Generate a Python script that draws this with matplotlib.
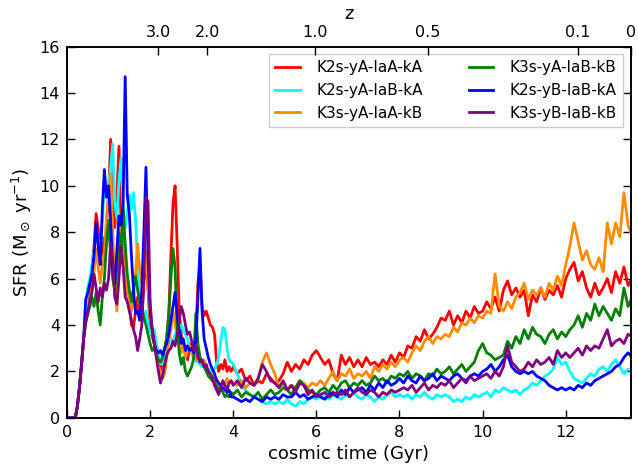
import numpy as np
import matplotlib
matplotlib.use('Agg')
import matplotlib.pyplot as plt

# time sampling: 0.05 Gyr up to 4 Gyr, 0.1 Gyr afterwards
t_early = np.round(np.arange(0.0, 4.0001, 0.05), 2)
t_late = np.round(np.arange(4.1, 13.6001, 0.1), 1)
time = np.concatenate([t_early, t_late])

# redshift ticks for the top axis and the cosmic time they sit at (Gyr)
z_labels = ['3.0', '2.0', '1.0', '0.5', '0.1', '0']
z_ages = [2.19, 3.38, 5.96, 8.68, 12.30, 13.57]

sfr_red = [
    0, 0, 0, 0, 0, 0.5, 1.3, 2.3, 3.4, 4.2,
    4.6, 5.6, 6.4, 7.4, 8.8, 8.2, 7.0, 7.8, 6.6, 8.4,
    9.5, 12.0, 10.8, 8.2, 9.6, 11.7, 8.5, 7.2, 6.0, 5.4,
    5.0, 4.0, 3.9, 4.6, 5.2, 4.4, 4.3, 5.8, 7.0, 5.5,
    4.0, 3.5, 3.2, 2.8, 2.3, 2.0, 2.4, 2.9, 3.4, 4.5,
    7.0, 9.2, 10.0, 7.5, 4.6, 3.6, 3.0, 2.8, 2.5, 3.0,
    3.2, 3.0, 3.6, 5.8, 6.6, 4.8, 4.4, 4.6, 4.3, 4.0,
    3.9, 3.6, 2.4, 2.0, 2.3, 2.1, 2.5, 2.0, 2.2, 2.0,
    2.2,
    1.9, 2.1, 1.6, 1.8, 1.4, 1.6, 1.5, 1.9, 1.7, 1.5,
    1.6, 1.9, 2.4, 2.0, 2.3, 2.1, 2.5, 2.3, 2.7, 2.9,
    2.6, 2.3, 2.5, 1.9, 1.6, 2.7, 2.3, 2.6, 2.2, 2.5,
    2.2, 2.6, 2.3, 2.4, 2.2, 2.5, 2.3, 2.7, 2.4, 2.8,
    2.6, 3.1, 3.0, 3.5, 3.3, 3.8, 3.4, 3.6, 3.9, 4.3,
    4.2, 4.6, 4.0, 4.4, 4.1, 4.6, 4.3, 4.8, 4.5, 4.6,
    5.0, 4.7, 5.2, 4.6, 5.5, 5.9, 5.3, 5.6, 5.2, 5.5,
    4.4, 5.3, 5.0, 5.6, 5.1, 5.5, 5.3, 5.7, 5.2, 6.0,
    6.4, 6.7, 5.9, 6.3, 5.6, 5.2, 5.8, 5.3, 5.6, 6.0,
    5.4, 6.3, 5.8, 6.5, 5.7, 6.0]

sfr_cyan = [
    0, 0, 0, 0, 0, 0.5, 1.3, 2.3, 3.4, 4.4,
    5.6, 6.0, 6.6, 7.2, 8.0, 7.6, 7.0, 8.5, 10.0, 9.6,
    10.0, 10.8, 11.8, 9.2, 8.6, 10.2, 11.2, 9.0, 8.2, 8.8,
    9.6, 9.0, 9.7, 8.5, 6.5, 5.0, 4.5, 4.2, 4.6, 4.0,
    3.7, 3.6, 3.8, 3.2, 2.8, 2.4, 2.3, 2.5, 2.9, 3.2,
    3.4, 3.2, 3.6, 3.8, 3.7, 4.0, 3.8, 3.6, 3.4, 3.0,
    2.8, 2.6, 2.4, 2.5, 2.3, 2.2, 2.4, 2.1, 2.0, 2.1,
    2.0, 2.1, 2.3, 2.6, 3.3, 3.9, 3.8, 3.0, 2.5, 2.4,
    2.3,
    1.9, 1.4, 1.2, 1.0, 0.9, 0.8, 0.7, 0.6, 0.7, 0.6,
    0.7, 0.6, 0.8, 0.6, 0.5, 0.7, 0.6, 0.8, 0.9, 0.8,
    1.0, 0.9, 0.8, 1.0, 0.9, 0.8, 1.0, 0.9, 1.1, 0.9,
    0.8, 1.0, 0.9, 0.7, 0.9, 0.8, 1.0, 1.1, 0.9, 1.0,
    0.9, 1.0, 0.8, 1.0, 0.9, 1.1, 0.9, 0.8, 1.0, 0.9,
    1.0, 0.9, 0.7, 0.8, 0.7, 0.9, 0.8, 1.0, 0.9, 1.0,
    1.1, 0.9, 1.2, 1.1, 1.3, 1.2, 1.1, 1.2, 1.0, 1.2,
    1.3, 1.5, 1.4, 1.6, 1.8, 1.9, 2.1, 2.6, 2.3, 2.4,
    2.0, 1.7, 1.6, 1.5, 1.7, 1.9, 1.8, 2.1, 2.2, 2.0,
    2.3, 2.5, 2.2, 1.9, 2.1, 2.0]

sfr_orange = [
    0, 0, 0, 0, 0, 0.5, 1.3, 2.3, 3.4, 4.2,
    4.4, 5.0, 5.6, 6.3, 7.3, 6.5, 5.8, 6.6, 7.0, 8.6,
    9.6, 10.5, 8.0, 6.0, 4.6, 6.5, 8.5, 7.0, 6.0, 5.5,
    5.0, 4.6, 5.2, 6.2, 7.5, 6.4, 5.8, 6.2, 7.2, 5.6,
    4.3, 3.8, 3.4, 2.8, 2.2, 2.0, 1.7, 1.9, 2.6, 3.3,
    3.8, 4.6, 4.1, 3.5, 3.1, 2.8, 3.2, 2.6, 2.9, 3.1,
    2.8, 2.6, 2.5, 3.0, 2.6, 2.4, 2.5, 2.2, 2.0, 1.9,
    1.8, 1.6, 1.7, 1.5, 1.3, 1.6, 1.4, 1.7, 1.5, 1.6,
    1.5,
    1.4, 1.6, 1.3, 1.5, 1.4, 1.7, 2.4, 2.8, 2.3, 1.9,
    1.3, 1.5, 1.2, 1.4, 1.3, 1.6, 1.5, 1.3, 1.5, 1.4,
    1.6, 1.4, 1.7, 2.0, 1.6, 1.9, 1.8, 2.1, 1.7, 1.9,
    1.8, 2.0, 1.7, 2.2, 2.0, 2.3, 2.1, 2.4, 2.2, 2.5,
    2.6, 2.4, 2.8, 3.1, 2.9, 3.3, 3.5, 3.2, 3.5, 3.4,
    3.6, 3.5, 3.9, 3.7, 4.1, 4.0, 4.3, 4.1, 4.4, 4.3,
    4.6, 4.5, 6.2, 4.8, 4.6, 5.0, 4.7, 5.2, 5.4, 5.8,
    5.1, 5.5, 5.3, 5.6, 5.2, 5.8, 5.5, 6.1, 5.7, 6.6,
    7.4, 8.4, 7.6, 6.8, 7.2, 6.6, 6.4, 6.9, 6.3, 8.4,
    7.5, 8.4, 7.8, 9.7, 8.3, 7.8]

sfr_green = [
    0, 0, 0, 0, 0, 0.5, 1.3, 2.3, 3.4, 4.1,
    4.5, 4.8, 5.2, 4.8, 5.4, 4.6, 4.0, 5.2, 6.0, 7.5,
    8.5, 7.0, 6.0, 5.5, 6.5, 8.0, 6.8, 9.1, 7.5, 6.2,
    5.5, 5.0, 5.6, 6.1, 5.5, 5.0, 4.8, 4.3, 4.0, 3.6,
    3.2, 2.9, 3.0, 2.7, 2.5, 2.4, 2.6, 3.0, 3.5, 4.5,
    6.0, 7.3, 6.5, 4.0, 2.8, 2.3, 2.6, 2.0, 1.8, 2.0,
    2.2, 2.6, 4.5, 3.2, 2.6, 2.4, 2.2, 2.0, 1.8, 1.7,
    1.6, 1.5, 1.4, 1.2, 1.3, 1.1, 0.9, 1.0, 0.9, 1.1,
    1.0,
    1.2, 0.9, 1.1, 1.0, 0.9, 1.1, 0.8, 1.0, 1.2, 1.0,
    1.1, 1.3, 1.2, 1.0, 1.3, 1.6, 1.4, 1.2, 1.1, 1.0,
    1.2, 1.3, 1.1, 1.4, 1.2, 1.5, 1.6, 1.3, 1.5, 1.4,
    1.6, 1.4, 1.5, 1.8, 1.6, 1.7, 1.5, 1.8, 1.7, 1.9,
    1.8, 2.0, 1.7, 1.9, 1.8, 1.6, 1.9, 1.8, 2.1, 1.9,
    2.0, 2.2, 1.9, 2.1, 2.3, 2.0, 2.2, 2.4, 2.9, 3.2,
    2.8, 2.7, 2.5, 2.6, 2.7, 3.3, 3.0, 3.5, 3.2, 3.8,
    3.4, 3.9, 3.6, 3.5, 3.2, 3.6, 3.8, 3.4, 3.7, 3.5,
    3.8, 4.0, 4.4, 3.9, 4.5, 4.2, 4.9, 4.4, 4.8, 4.5,
    4.2, 4.7, 4.4, 5.6, 4.8, 5.2]

sfr_blue = [
    0, 0, 0, 0, 0, 0.5, 1.3, 2.3, 3.4, 5.1,
    5.4, 5.8, 6.2, 7.0, 8.4, 7.4, 6.6, 9.0, 10.7, 9.5,
    10.0, 8.5, 6.4, 5.8, 7.2, 8.7, 8.3, 9.2, 14.7, 9.6,
    8.8, 7.0, 5.5, 4.5, 4.6, 4.2, 5.5, 8.0, 10.8, 7.0,
    4.6, 3.8, 3.2, 2.9, 2.8, 2.9, 2.7, 3.0, 3.2, 3.6,
    4.2, 4.8, 5.4, 4.4, 3.8, 3.2, 3.4, 2.9, 3.1, 2.9,
    3.0, 2.8, 3.3, 5.2, 7.3, 4.6, 3.4, 3.0, 2.6, 2.3,
    2.1, 1.9, 1.6, 1.5, 1.4, 1.3, 1.2, 1.1, 1.2, 0.9,
    0.9,
    0.8, 0.7, 0.8, 0.7, 0.9, 0.8, 0.7, 0.9, 0.8, 0.9,
    0.8, 1.0, 0.9, 0.9, 1.1, 0.9, 1.0, 0.8, 0.9, 1.0,
    0.9, 0.8, 1.0, 1.1, 0.9, 1.2, 1.0, 1.3, 1.1, 1.2,
    1.3, 1.1, 1.4, 1.2, 1.5, 1.3, 1.6, 1.4, 1.5, 1.7,
    1.5, 1.8, 1.6, 1.5, 1.8, 1.6, 1.7, 1.9, 1.6, 1.8,
    1.7, 1.6, 1.8, 1.9, 1.7, 1.6, 1.8, 1.9, 1.8, 2.0,
    2.1, 2.3, 2.0, 2.2, 2.5, 2.7, 2.2, 2.0, 1.9, 2.0,
    1.9, 2.0, 1.8, 1.7, 1.6, 1.4, 1.3, 1.2, 1.3, 1.2,
    1.3, 1.2, 1.4, 1.3, 1.5, 1.4, 1.6, 1.7, 1.8, 1.9,
    2.0, 2.2, 2.3, 2.6, 2.8, 2.6]

sfr_purple = [
    0, 0, 0, 0, 0, 0.5, 1.3, 2.3, 3.4, 4.1,
    4.6, 5.0, 5.4, 6.2, 5.6, 5.0, 5.6, 5.2, 5.8, 5.5,
    6.0, 7.5, 6.8, 5.2, 4.9, 6.0, 7.4, 6.5, 5.2, 5.0,
    4.6, 4.2, 3.8, 3.5, 2.9, 3.4, 4.0, 6.0, 9.5, 9.3,
    5.0, 3.8, 3.2, 2.6, 2.0, 1.5, 1.8, 2.3, 2.7, 2.9,
    3.0, 3.3, 3.1, 3.6, 4.2, 4.8, 4.5, 4.0, 3.6, 3.7,
    3.3, 2.9, 3.1, 2.6, 2.4, 2.5, 2.2, 2.3, 2.0, 1.9,
    1.7, 1.4, 1.2, 1.0, 1.3, 1.6, 1.4, 1.2, 1.5, 1.6,
    1.4,
    1.6, 1.3, 1.7, 1.5, 1.4, 1.7, 2.3, 2.0, 1.6, 1.5,
    1.3, 1.6, 1.2, 1.4, 1.1, 1.5, 1.4, 1.0, 1.2, 0.9,
    1.0, 1.1, 0.9, 1.0, 1.1, 1.0, 1.2, 0.9, 1.1, 1.3,
    1.1, 1.0, 1.2, 1.1, 0.9, 1.1, 1.0, 1.2, 1.1, 1.2,
    1.3, 1.2, 1.4, 1.1, 1.3, 1.5, 1.2, 1.4, 1.3, 1.5,
    1.4, 1.6, 1.3, 1.5, 1.7, 1.5, 1.8, 1.6, 1.7, 1.8,
    1.9, 1.7, 2.0, 1.8, 2.2, 3.1, 2.4, 2.2, 2.0, 2.1,
    2.4, 2.2, 2.5, 2.3, 2.4, 2.6, 2.3, 2.9, 2.6, 2.8,
    2.6, 2.8, 3.0, 2.7, 3.1, 2.9, 3.1, 3.0, 3.4, 3.8,
    3.1, 3.3, 3.4, 3.2, 3.6, 3.5]

models = [
    ('K2s-yA-IaA-kA', sfr_red, 'red'),
    ('K2s-yA-IaB-kA', sfr_cyan, 'cyan'),
    ('K3s-yA-IaA-kB', sfr_orange, 'darkorange'),
    ('K3s-yA-IaB-kB', sfr_green, 'green'),
    ('K2s-yB-IaB-kA', sfr_blue, 'blue'),
    ('K3s-yB-IaB-kB', sfr_purple, 'purple'),
]

plt.rcParams['font.family'] = 'DejaVu Sans'
plt.rcParams['mathtext.default'] = 'regular'

fig = plt.figure(figsize=(6.38, 4.70), dpi=100)
ax = fig.add_axes([0.105, 0.111, 0.884, 0.790])

for name, sfr, col in models:
    ax.plot(time, sfr, color=col, lw=2, label=name)

ax.set_xlim(0, 13.57)
ax.set_ylim(0, 16)
ax.set_xticks([0, 2, 4, 6, 8, 10, 12])
ax.set_yticks(np.arange(0, 17, 2))
ax.tick_params(direction='in', length=6, width=1, labelsize=11.5,
               right=True, top=False, pad=5)
ax.set_xlabel('cosmic time (Gyr)', fontsize=13)
ax.set_ylabel(r'SFR (M$_\odot$ yr$^{-1}$)', fontsize=13)

# redshift along the top
ax2 = ax.twiny()
ax2.set_xlim(ax.get_xlim())
ax2.set_xticks(z_ages)
ax2.set_xticklabels(z_labels)
ax2.tick_params(direction='in', length=6, width=1, labelsize=11.5, pad=5)
ax2.set_xlabel('z', fontsize=13)

for a in (ax, ax2):
    for sp in a.spines.values():
        sp.set_linewidth(1.2)

leg = ax.legend(loc='upper right', ncol=2, fontsize=11, fancybox=False,
                handlelength=1.6, handletextpad=1.1, columnspacing=3.0,
                framealpha=1)
leg.get_frame().set_edgecolor('0.8')

fig.savefig('out.png', dpi=100)
